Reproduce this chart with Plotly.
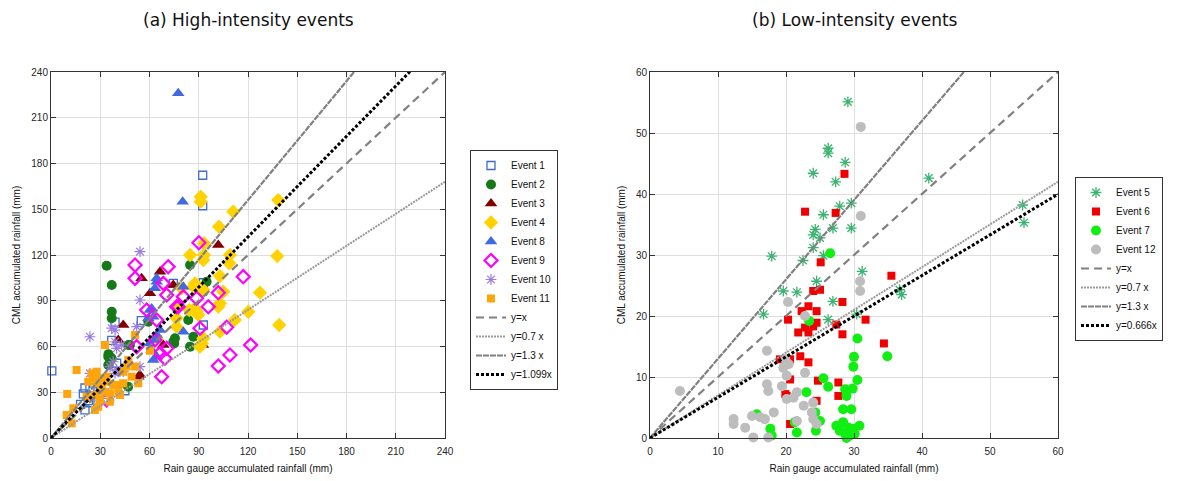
import plotly.graph_objects as go

# ---------------- data: (a) high-intensity events ----------------
ev1_x = [0.5, 92.4, 92.4, 20.7, 23.7, 19.7, 22.7, 20.7, 23.7, 74.5, 92.8, 92.8, 37, 39, 40, 55, 45, 26, 30, 18]
ev1_y = [44, 172.3, 152.3, 32.8, 32.8, 28.9, 24.5, 18.4, 23.1, 101.4, 101.8, 74.1, 64, 76, 49, 77, 31, 36, 33, 22]

ev2_x = [33.9, 37, 37, 37, 34.9, 34.9, 36.8, 47.1, 75.5, 75, 84.7, 86.7, 83.6, 84.7, 94.8, 92.8, 74.5, 48.1, 59.3, 47, 35]
ev2_y = [113, 100.3, 82.8, 78.5, 53.3, 47.9, 52.5, 61, 65.4, 62, 59.9, 66.4, 77.4, 113.4, 102.5, 95.9, 63.1, 61, 76.3, 33.6, 55]

ev3_x = [101.9, 66.4, 55.2, 60.3, 74.5, 44, 41, 68.4, 54.2, 53.2, 92.5]
ev3_y = [126.6, 109, 104.7, 94.9, 100.3, 74.1, 64.3, 61, 41.3, 40.2, 61]

ev4_x = [91.2, 91.2, 111, 102.3, 93.2, 84.7, 93.2, 109, 138.4, 137.8, 92.8, 108.6, 102.9, 127.3, 104.9,
         120.2, 112, 102.9, 139, 101.9, 91.8, 87.7, 77.5, 76.5, 87.7, 89.7, 90.7, 102.9, 64.4, 79.6, 86.7,
         92.8, 88.7, 76.5, 92.8, 84.2]
ev4_y = [158.2, 155, 148.4, 138.6, 127.7, 120, 120, 120, 156, 119.3, 116.7, 114.6, 106.2, 95.3, 95.9,
         82.8, 77.4, 69.7, 74.1, 86.1, 62, 101.4, 87.2, 73, 85, 80.7, 59.9, 88.3, 65.4, 98.2, 99.2,
         97, 82.8, 78.5, 65.4, 83.9]

ev8_x = [77.5, 80.2, 64.4, 63.3, 80.6, 60.3, 62.3, 66.4, 64.4, 63.3, 80.6, 64.4, 64.4, 61.3, 59.3, 60.3, 61.3, 62.3]
ev8_y = [226, 155, 102.5, 98.2, 99.2, 83.9, 79.5, 70.8, 67.5, 64.3, 69.7, 53.3, 104.7, 85, 78.5, 62.1, 57.7, 51.1]

ev9_x = [90.1, 117.1, 101.9, 95.8, 107, 121.6, 109, 101.9, 90.7, 51.2, 71.4, 51.2, 68.4, 58.3, 64.4, 76.5,
         88.7, 80.6, 63.3, 70.5, 69.4, 67.4, 52.2, 33.9, 70.5, 77.5, 66.4]
ev9_y = [128, 105.8, 95.3, 86.1, 72.6, 61, 54.4, 47.2, 72, 113.4, 112.3, 104.7, 101.4, 83.9, 77.4, 86.1,
         91.6, 92.7, 64.3, 58.8, 52.3, 40.2, 59.9, 24.9, 93.8, 86.1, 55.5]

ev10_x = [54.2, 54.2, 23.7, 52.2, 37, 39, 40, 37.9, 23.7, 54.2, 34.9, 39, 43, 39, 42, 30.9, 26.8, 40, 44, 36]
ev10_y = [122.2, 90.5, 66.4, 73, 72, 63.1, 58.8, 50, 42.4, 46.8, 29.3, 70.8, 61, 42.4, 43.5, 26, 27.1, 44.6, 43.5, 46.8]

ev11_x = [15.6, 9.9, 32.9, 51.2, 60.3, 9.5, 12.6, 13.6, 26.8, 24.8, 27.8, 29.8, 33.9, 30.9, 31.9, 26.8, 35.9,
          41, 44, 46.1, 49.1, 51.2, 53.2, 37.9, 33.9, 27.8, 29.8, 40, 35.9, 21.7, 44, 47.1, 42, 28.8, 25.8, 22.7]
ev11_y = [44.6, 28.9, 61, 67.5, 57.2, 15.1, 9.6, 19.5, 18.4, 42.4, 43.5, 39.1, 36.9, 33.6, 30.4, 28.2, 29.3,
          30.4, 35.9, 46.8, 40.2, 46.8, 35.9, 34.8, 40.2, 35.9, 24.9, 34.8, 23.8, 27.1, 43.5, 51.1, 28.2, 20.5, 39.1, 36.9]

# ---------------- data: (b) low-intensity events ----------------
ev5_x = [29.1, 26.2, 26.2, 28.7, 24, 27.3, 27.9, 29.6, 25.5, 26.9, 29.6, 24.3, 24, 25, 24, 25.5, 17.9, 22.5,
         31.2, 24.5, 19.6, 21.6, 26.9, 16.7, 26.2, 41, 54.8, 55, 36.7, 37, 30.4]
ev5_y = [55.1, 47.5, 46.7, 45.2, 43.4, 42, 38, 38.5, 36.6, 34.4, 34.4, 34.2, 33.3, 32.8, 31.2, 29.9, 29.8, 29.1,
         27.3, 25.7, 24.1, 23.9, 22.4, 20.3, 19.4, 42.6, 38.2, 35.3, 24.3, 23.5, 20.3]

ev6_x = [28.6, 22.8, 27.3, 25.1, 24, 25, 28.3, 23.3, 22.3, 24.5, 20.3, 22.8, 24, 23.3, 21.8, 24.5, 27.4, 28.3,
         31.7, 19.1, 20.6, 22.1, 23.3, 20.6, 24.7, 27.7, 27.7, 20.1, 24.5, 20.6, 35.5, 34.4, 19.9]
ev6_y = [43.3, 37.1, 36.9, 28.8, 24.1, 24.3, 22.3, 21.6, 20.8, 20.8, 19.4, 18.1, 18.3, 17.3, 17.3, 18.9, 18.6, 17,
         19.4, 12.9, 12.9, 13.4, 12.4, 9.6, 9.4, 9.1, 6.9, 6.9, 6.1, 2.3, 26.6, 15.5, 7.2]

ev7_x = [26.5, 23.4, 30.5, 30, 29.9, 30.5, 25.5, 26.2, 23, 28.7, 29.8, 28.9, 28.4, 29.6, 24.3, 25, 17.7, 17.9,
         21.3, 21.6, 24.4, 27.4, 28.4, 29.2, 29.9, 30.8, 27.9, 28.7, 29.4, 30.1, 28.9, 34.9, 15.7]
ev7_y = [30.3, 19.2, 16.3, 13.3, 11.7, 9.5, 9.8, 8.4, 7.5, 8, 8.1, 6.9, 4.7, 4.7, 4.2, 2.8, 1.5, 0.4,
         2.6, 0.9, 1.2, 2, 2.6, 1.7, 1.5, 2, 1.2, 0.7, 0.4, 0.7, 0, 13.4, 3.9]

ev12_x = [31, 31, 30.9, 30.9, 20.3, 22.8, 17.2, 19.9, 20.4, 19.6, 20.1, 22.8, 17.2, 17.4, 20.1, 21.1, 21.6,
          22.6, 24, 23.8, 24, 24.5, 12.3, 12.3, 14, 15, 16.2, 16.9, 18.2, 15.2, 17.4, 21.6, 4.4, 19.4]
ev12_y = [51, 36.4, 25.7, 24.1, 22.3, 20, 14.3, 12.9, 12.1, 11.5, 10.2, 10.7, 8.8, 7.7, 6.4, 6.6, 7.5,
          5.3, 5.8, 4.2, 3.1, 2.3, 3.1, 2.3, 1.7, 3.6, 3.4, 3.1, 4.2, 0.1, 0.1, 2.8, 7.7, 8.5]

# reference lines
left_lines = [("y=x", 1.0), ("y=0.7 x", 0.7), ("y=1.3 x", 1.3), ("y=1.099x", 1.099)]
right_lines = [("y=x", 1.0), ("y=0.7 x", 0.7), ("y=1.3 x", 1.3), ("y=0.666x", 0.666)]
left_max = 240
right_max = 60
left_ticks = list(range(0, 241, 30))
right_ticks = list(range(0, 61, 10))

# ---------------- figure ----------------
fig = go.Figure()

def add_pts(x, y, name, symbol, color, size, xa, ya, leg, open_=False, lw=1.5):
    if open_:
        marker = dict(symbol=symbol, size=size, color=color, line=dict(color=color, width=lw))
    else:
        marker = dict(symbol=symbol, size=size, color=color, line=dict(width=0))
    fig.add_trace(go.Scatter(x=x, y=y, mode="markers", name=name, marker=marker,
                             xaxis=xa, yaxis=ya, legend=leg, cliponaxis=False))

add_pts(ev1_x, ev1_y, "Event 1", "square-open", "#3E6DCB", 8, "x", "y", "legend", True, 1.3)
add_pts(ev2_x, ev2_y, "Event 2", "circle", "#15791A", 10, "x", "y", "legend")
add_pts(ev3_x, ev3_y, "Event 3", "triangle-up", "#820000", 11, "x", "y", "legend")
add_pts(ev4_x, ev4_y, "Event 4", "diamond", "#FFD200", 11, "x", "y", "legend")
add_pts(ev8_x, ev8_y, "Event 8", "triangle-up", "#4169E1", 11, "x", "y", "legend")
add_pts(ev9_x, ev9_y, "Event 9", "diamond-open", "#FF00FF", 10, "x", "y", "legend", True, 2.2)
add_pts(ev10_x, ev10_y, "Event 10", "asterisk-open", "#9A7CE0", 9, "x", "y", "legend", True, 1.2)
add_pts(ev11_x, ev11_y, "Event 11", "square", "#FFA50A", 8, "x", "y", "legend")

add_pts(ev5_x, ev5_y, "Event 5", "asterisk-open", "#3CB371", 9, "x2", "y2", "legend2", True, 1.3)
add_pts(ev6_x, ev6_y, "Event 6", "square", "#F00000", 8, "x2", "y2", "legend2")
add_pts(ev7_x, ev7_y, "Event 7", "circle", "#11EE11", 10, "x2", "y2", "legend2")
add_pts(ev12_x, ev12_y, "Event 12", "circle", "#BDBDBD", 10, "x2", "y2", "legend2")

line_styles = [
    dict(color="#808080", width=2.2, dash="8px,5px"),
    dict(color="#9A9A9A", width=2, dash="2px,1px"),
    dict(color="#808080", width=2.2, dash="6px,1px"),
    dict(color="#000000", width=3, dash="3px,2px"),
]

for (nm, k), st in zip(left_lines, line_styles):
    xs = [0, left_max]
    fig.add_trace(go.Scatter(x=xs, y=[k * v for v in xs], mode="lines", name=nm, line=st,
                             xaxis="x", yaxis="y", legend="legend"))
for (nm, k), st in zip(right_lines, line_styles):
    xs = [0, right_max]
    fig.add_trace(go.Scatter(x=xs, y=[k * v for v in xs], mode="lines", name=nm, line=st,
                             xaxis="x2", yaxis="y2", legend="legend2"))

# page body has an 8px margin, so the figure is 8px smaller and positions are shifted by 8px
OFF = 8
W, H = 1184 - OFF, 481 - OFF

def px(x):
    return (x - OFF) / W

def py(y):
    return 1 - (y - OFF) / H

tickfont = dict(family="Liberation Sans, Arial, sans-serif", size=10, color="#262626")
axis_common = dict(showgrid=True, gridcolor="#DEDEDE", gridwidth=1, showline=True, linecolor="#333333",
                   linewidth=1, mirror="ticks", ticks="inside", ticklen=5, tickcolor="#333333",
                   tickfont=tickfont, zeroline=False, automargin=False)

lab_font = dict(family="Liberation Sans, Arial, sans-serif", size=10, color="#111111")
leg_font = dict(family="Liberation Sans, Arial, sans-serif", size=10, color="#111111")

fig.update_layout(
    width=W, height=H,
    margin=dict(l=0, r=0, t=0, b=0),
    paper_bgcolor="white", plot_bgcolor="white",
    xaxis=dict(domain=[px(51), px(445)], range=[0, left_max], tickvals=left_ticks, anchor="y",
               ticklabelstandoff=4,
               title=dict(text="Rain gauge accumulated rainfall (mm)", font=lab_font, standoff=8), **axis_common),
    yaxis=dict(domain=[py(438), py(72)], range=[0, left_max], tickvals=left_ticks, anchor="x",
               title=dict(text="CML accumulated rainfall (mm)", font=lab_font, standoff=8), **axis_common),
    xaxis2=dict(domain=[px(650), px(1058)], range=[0, right_max], tickvals=right_ticks, anchor="y2",
                ticklabelstandoff=4,
                title=dict(text="Rain gauge accumulated rainfall (mm)", font=lab_font, standoff=8), **axis_common),
    yaxis2=dict(domain=[py(438), py(72)], range=[0, right_max], tickvals=right_ticks, anchor="x2",
                title=dict(text="CML accumulated rainfall (mm)", font=lab_font, standoff=8), **axis_common),
    legend=dict(x=px(470), y=py(270), xanchor="left", yanchor="middle",
                bgcolor="white", bordercolor="#333333", borderwidth=1,
                font=leg_font, itemwidth=30, tracegroupgap=0),
    legend2=dict(x=px(1075), y=py(259), xanchor="left", yanchor="middle",
                 bgcolor="white", bordercolor="#333333", borderwidth=1,
                 font=leg_font, itemwidth=30, tracegroupgap=0),
    annotations=[
        dict(text="(a) High-intensity events", x=px(248), y=py(20), xref="paper", yref="paper",
             showarrow=False, xanchor="center", yanchor="middle",
             font=dict(family="DejaVu Sans, sans-serif", size=17, color="#111111")),
        dict(text="(b) Low-intensity events", x=px(855), y=py(20), xref="paper", yref="paper",
             showarrow=False, xanchor="center", yanchor="middle",
             font=dict(family="DejaVu Sans, sans-serif", size=17, color="#111111")),
    ],
)

fig.write_html("out.html")
